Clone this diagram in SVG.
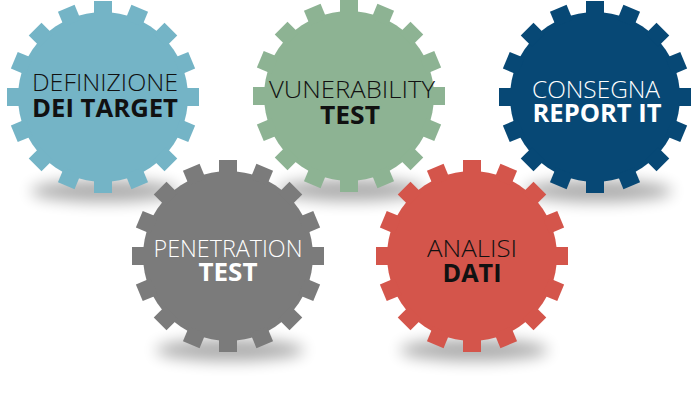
<svg xmlns="http://www.w3.org/2000/svg" xmlns:xlink="http://www.w3.org/1999/xlink" width="700" height="403" viewBox="0 0 700 403">
<style>
.t1{font-family:"Open Sans","Liberation Sans",sans-serif;font-weight:300;font-size:24px;text-anchor:middle}
.t2{font-family:"Open Sans","Liberation Sans",sans-serif;font-weight:700;font-size:25px;text-anchor:middle}
.dark{fill:#111}
.light{fill:#fff}
.shadow{fill:#000;opacity:0.32;filter:url(#blur)}
</style>
<defs>
<filter id="blur" x="-50%" y="-100%" width="200%" height="300%"><feGaussianBlur stdDeviation="7.5"/></filter>
<g id="gear">
<circle cx="0" cy="0" r="85"/>
<rect x="-9" y="-96" width="18" height="16" transform="rotate(0)"/>
<rect x="-9" y="-96" width="18" height="16" transform="rotate(22.5)"/>
<rect x="-9" y="-96" width="18" height="16" transform="rotate(45)"/>
<rect x="-9" y="-96" width="18" height="16" transform="rotate(67.5)"/>
<rect x="-9" y="-96" width="18" height="16" transform="rotate(90)"/>
<rect x="-9" y="-96" width="18" height="16" transform="rotate(112.5)"/>
<rect x="-9" y="-96" width="18" height="16" transform="rotate(135)"/>
<rect x="-9" y="-96" width="18" height="16" transform="rotate(157.5)"/>
<rect x="-9" y="-96" width="18" height="16" transform="rotate(180)"/>
<rect x="-9" y="-96" width="18" height="16" transform="rotate(202.5)"/>
<rect x="-9" y="-96" width="18" height="16" transform="rotate(225)"/>
<rect x="-9" y="-96" width="18" height="16" transform="rotate(247.5)"/>
<rect x="-9" y="-96" width="18" height="16" transform="rotate(270)"/>
<rect x="-9" y="-96" width="18" height="16" transform="rotate(292.5)"/>
<rect x="-9" y="-96" width="18" height="16" transform="rotate(315)"/>
<rect x="-9" y="-96" width="18" height="16" transform="rotate(337.5)"/>
</g>
</defs>
<rect width="700" height="403" fill="#fff"/>
<g id="shadows">
<ellipse class="shadow" cx="105" cy="191" rx="74" ry="11"/>
<ellipse class="shadow" cx="351" cy="190" rx="74" ry="11"/>
<ellipse class="shadow" cx="598" cy="191" rx="74" ry="11"/>
<ellipse class="shadow" cx="230" cy="350" rx="74" ry="11"/>
<ellipse class="shadow" cx="474" cy="350" rx="74" ry="11"/>
</g>
<g id="gear-definizione">
<use xlink:href="#gear" href="#gear" transform="translate(103,97)" fill="#74B4C6"/>
<text class="t1 dark" x="105" y="91" textLength="146" lengthAdjust="spacingAndGlyphs">DEFINIZIONE</text>
<text class="t2 dark" x="105" y="117" textLength="146" lengthAdjust="spacingAndGlyphs">DEI TARGET</text>
</g>
<g id="gear-vunerability">
<use xlink:href="#gear" href="#gear" transform="translate(349,96)" fill="#8DB393"/>
<text class="t1 dark" x="352" y="98" textLength="166" lengthAdjust="spacingAndGlyphs">VUNERABILITY</text>
<text class="t2 dark" x="350" y="124" textLength="60" lengthAdjust="spacingAndGlyphs">TEST</text>
</g>
<g id="gear-consegna">
<use xlink:href="#gear" href="#gear" transform="translate(595,97)" fill="#074875"/>
<text class="t1 light" x="596" y="98" textLength="128" lengthAdjust="spacingAndGlyphs">CONSEGNA</text>
<text class="t2 light" x="597" y="122" textLength="129" lengthAdjust="spacingAndGlyphs">REPORT IT</text>
</g>
<g id="gear-penetration">
<use xlink:href="#gear" href="#gear" transform="translate(228,256)" fill="#7B7B7B"/>
<text class="t1 light" x="228" y="257" textLength="149" lengthAdjust="spacingAndGlyphs">PENETRATION</text>
<text class="t2 light" x="228" y="281" textLength="59" lengthAdjust="spacingAndGlyphs">TEST</text>
</g>
<g id="gear-analisi">
<use xlink:href="#gear" href="#gear" transform="translate(472,256)" fill="#D4554B"/>
<text class="t1 dark" x="472" y="257" textLength="90" lengthAdjust="spacingAndGlyphs">ANALISI</text>
<text class="t2 dark" x="472" y="282" textLength="59" lengthAdjust="spacingAndGlyphs">DATI</text>
</g>
<g id="connectors"/>
</svg>
